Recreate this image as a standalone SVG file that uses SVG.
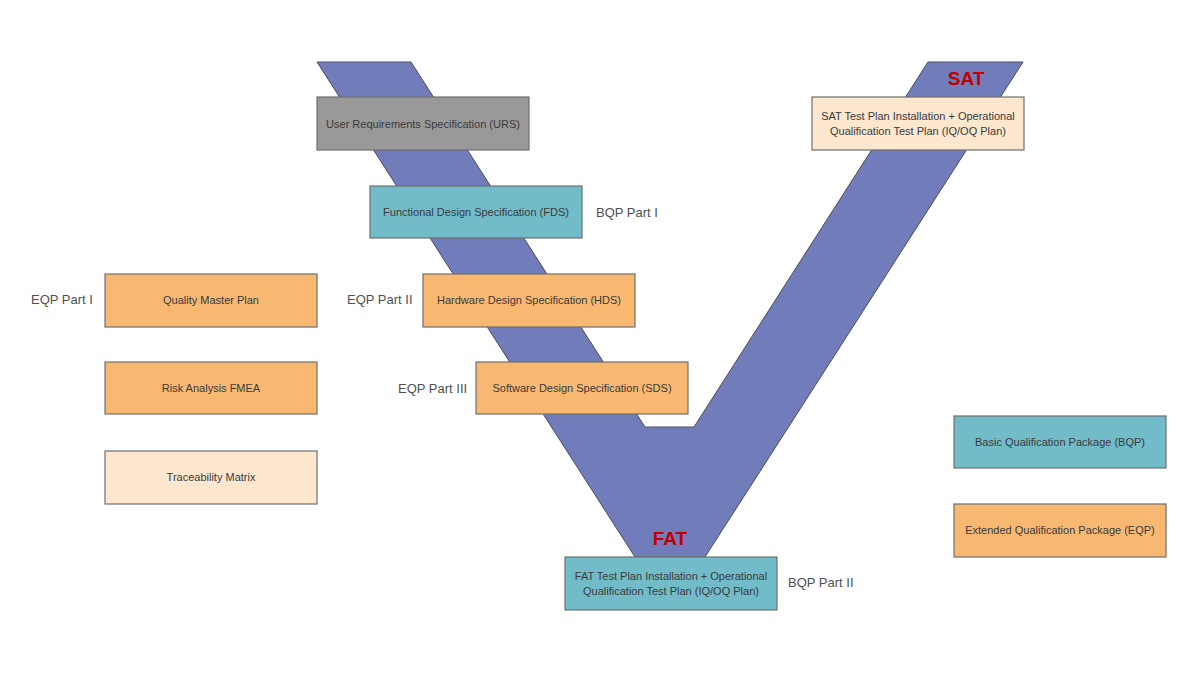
<svg xmlns="http://www.w3.org/2000/svg" width="1200" height="675" viewBox="0 0 1200 675">
<style>
.box{stroke:#6f6f6f;stroke-width:1.2}
.gray{fill:#999999}
.teal{fill:#72BCCA}
.orange{fill:#F9B872}
.light{fill:#FDE7CF}
.t{font-family:"Liberation Sans",Arial,sans-serif;font-size:11px;fill:#3a3a3a;text-anchor:middle;dominant-baseline:central}
.lbl{font-family:"Liberation Sans",Arial,sans-serif;font-size:13px;fill:#505050;dominant-baseline:central}
.red{font-family:"Liberation Sans",Arial,sans-serif;font-size:19px;font-weight:bold;fill:#C00000;text-anchor:middle}
</style>
<rect width="1200" height="675" fill="#ffffff"/>
<g id="v-shape">
<polygon points="317,62 411,62 645,427 694,427 928,62 1023,62 705,557 635,557" fill="#717DBA" stroke="#4a4a5a" stroke-width="1"/>
<text class="red" x="966" y="85">SAT</text>
<text class="red" x="670" y="545">FAT</text>
</g>
<g id="connectors"></g>
<g id="urs"><rect class="box gray" x="317" y="97" width="212" height="53"/><text class="t" x="423" y="123.5">User Requirements Specification (URS)</text></g>
<g id="fds"><rect class="box teal" x="370" y="186" width="212" height="52"/><text class="t" x="476" y="212">Functional Design Specification (FDS)</text></g>
<g id="hds"><rect class="box orange" x="423" y="274" width="212" height="53"/><text class="t" x="529" y="300">Hardware Design Specification (HDS)</text></g>
<g id="sds"><rect class="box orange" x="476" y="362" width="212" height="52"/><text class="t" x="582" y="388">Software Design Specification (SDS)</text></g>
<g id="qmp"><rect class="box orange" x="105" y="274" width="212" height="53"/><text class="t" x="211" y="300">Quality Master Plan</text></g>
<g id="fmea"><rect class="box orange" x="105" y="362" width="212" height="52"/><text class="t" x="211" y="388">Risk Analysis FMEA</text></g>
<g id="trace"><rect class="box light" x="105" y="451" width="212" height="53"/><text class="t" x="211" y="477">Traceability Matrix</text></g>
<g id="sat"><rect class="box light" x="812" y="97" width="212" height="53"/><text class="t" x="918" y="116">SAT Test Plan Installation + Operational</text><text class="t" x="918" y="131">Qualification Test Plan (IQ/OQ Plan)</text></g>
<g id="fat"><rect class="box teal" x="565" y="557" width="212" height="53"/><text class="t" x="671" y="576">FAT Test Plan Installation + Operational</text><text class="t" x="671" y="591">Qualification Test Plan (IQ/OQ Plan)</text></g>
<g id="bqp"><rect class="box teal" x="954" y="416" width="212" height="52"/><text class="t" x="1060" y="442">Basic Qualification Package (BQP)</text></g>
<g id="eqp"><rect class="box orange" x="954" y="504" width="212" height="53"/><text class="t" x="1060" y="530">Extended Qualification Package (EQP)</text></g>
<g id="labels">
<text class="lbl" x="596" y="212">BQP Part I</text>
<text class="lbl" x="31" y="299">EQP Part I</text>
<text class="lbl" x="347" y="299">EQP Part II</text>
<text class="lbl" x="398" y="388">EQP Part III</text>
<text class="lbl" x="788" y="582">BQP Part II</text>
</g>
</svg>
